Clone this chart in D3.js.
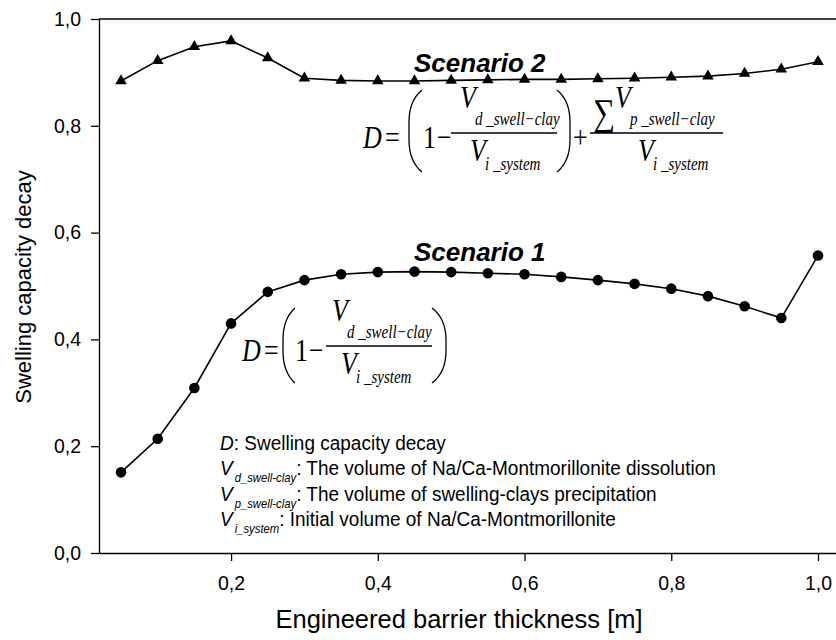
<!DOCTYPE html>
<html>
<head>
<meta charset="utf-8">
<script src="https://cdn.jsdelivr.net/npm/d3@7"></script>
<style>
  html, body { margin: 0; padding: 0; background: #fff; }
  svg { display: block; }
</style>
</head>
<body>
<svg id="chart" width="836" height="640"></svg>
<script>
// Barrier thickness (m) at which the swelling capacity decay was evaluated
const thickness = [0.05, 0.10, 0.15, 0.20, 0.25, 0.30, 0.35, 0.40, 0.45, 0.50,
                   0.55, 0.60, 0.65, 0.70, 0.75, 0.80, 0.85, 0.90, 0.95, 1.00];

// Scenario 1: dissolution only
const scenario1 = [0.151, 0.214, 0.309, 0.430, 0.489, 0.511, 0.522, 0.526, 0.527, 0.526,
                   0.524, 0.522, 0.517, 0.511, 0.504, 0.495, 0.481, 0.462, 0.440, 0.557];

// Scenario 2: dissolution plus precipitation of swelling clays
const scenario2 = [0.884, 0.922, 0.948, 0.959, 0.927, 0.889, 0.885, 0.884, 0.884, 0.885,
                   0.886, 0.887, 0.887, 0.888, 0.889, 0.891, 0.893, 0.898, 0.906, 0.920];

const xTicks = [0.2, 0.4, 0.6, 0.8, 1.0];
const xTickLabels = ["0,2", "0,4", "0,6", "0,8", "1,0"];
const yTicks = [0.0, 0.2, 0.4, 0.6, 0.8, 1.0];
const yTickLabels = ["0,0", "0,2", "0,4", "0,6", "0,8", "1,0"];

const xTitle = "Engineered barrier thickness [m]";
const yTitle = "Swelling capacity decay";
const seriesNames = ["Scenario 1", "Scenario 2"];

const svg = d3.select("#chart");
const SANS = "'Liberation Sans', Arial, sans-serif";
const SERIF = "'Liberation Serif', 'Times New Roman', serif";

const x = d3.scaleLinear().domain([0.02, 1.03]).range([99, 840]);
const y = d3.scaleLinear().domain([0, 1]).range([553, 19]);

// generic text helper with optional vertical stretch
function label(parent, o) {
  const g = parent.append("g")
    .attr("transform", `translate(${o.x},${o.y})` + (o.rot ? ` rotate(${o.rot})` : "") + ` scale(1,${o.sy || 1})`);
  const t = g.append("text")
    .attr("x", 0).attr("y", 0)
    .attr("font-family", o.family || SANS)
    .attr("font-size", o.size)
    .attr("font-style", o.style || "normal")
    .attr("font-weight", o.weight || "normal")
    .attr("text-anchor", o.anchor || "start")
    .attr("fill", "#000")
    .text(o.text);
  return t;
}

// ---- axes ----
const fmtX = d => xTickLabels[xTicks.indexOf(d)];
const fmtY = d => yTickLabels[yTicks.indexOf(d)];

const xAxis = svg.append("g")
  .attr("transform", `translate(0,${y(0)})`)
  .call(d3.axisBottom(x).tickValues(xTicks).tickFormat(fmtX).tickSize(8).tickSizeOuter(0).tickPadding(15));
const yAxis = svg.append("g")
  .attr("transform", `translate(${x(0.02)},0)`)
  .call(d3.axisLeft(y).tickValues(yTicks).tickFormat(fmtY).tickSize(8).tickSizeOuter(0).tickPadding(10));

[xAxis, yAxis].forEach(a => {
  a.select(".domain").attr("stroke", "#000").attr("stroke-width", 1.3);
  a.selectAll(".tick line").attr("stroke", "#000").attr("stroke-width", 1.3);
  a.selectAll(".tick text").attr("font-family", SANS).attr("font-size", 19.5).attr("fill", "#000");
});

// top frame line
svg.append("line")
  .attr("x1", x(0.02)).attr("x2", x(1.03))
  .attr("y1", y(1)).attr("y2", y(1))
  .attr("stroke", "#000").attr("stroke-width", 1.3);

// axis titles
label(svg, { x: 459, y: 628, text: xTitle, size: 25.5, anchor: "middle" });
label(svg, { x: 31, y: 287, text: yTitle, size: 22, anchor: "middle", rot: -90 });

// ---- series ----
const line = d3.line().x((d, i) => x(thickness[i])).y(d => y(d));

svg.append("path").datum(scenario1)
  .attr("d", line).attr("fill", "none").attr("stroke", "#000").attr("stroke-width", 1.6);
svg.append("path").datum(scenario2)
  .attr("d", line).attr("fill", "none").attr("stroke", "#000").attr("stroke-width", 1.6);

svg.append("g").selectAll("circle").data(scenario1).join("circle")
  .attr("cx", (d, i) => x(thickness[i])).attr("cy", d => y(d))
  .attr("r", 5.3).attr("fill", "#000");

const tri = d3.symbol().type(d3.symbolTriangle).size(58);
svg.append("g").selectAll("path").data(scenario2).join("path")
  .attr("transform", (d, i) => `translate(${x(thickness[i])},${y(d)})`)
  .attr("d", tri).attr("fill", "#000");

// scenario labels
label(svg, { x: 414, y: 261, text: seriesNames[0], size: 26, style: "italic", weight: "bold" });
label(svg, { x: 414, y: 72, text: seriesNames[1], size: 26, style: "italic", weight: "bold" });

// ---- formulas ----
const FS = 26, SUB = 15, SY = 1.22;

function paren(g, x0, x1, top, bot, left) {
  const a = left ? x0 : x1, b = left ? x1 : x0;   // a = vertical stem, b = hook ends
  const p = d3.path();
  p.moveTo(b, top);
  p.bezierCurveTo(a + (b - a) * 0.25, top + 8, a, top + 20, a, top + 32);
  p.lineTo(a, bot - 32);
  p.bezierCurveTo(a, bot - 20, a + (b - a) * 0.25, bot - 8, b, bot);
  g.append("path").attr("d", p.toString()).attr("fill", "none")
    .attr("stroke", "#000").attr("stroke-width", 1.3);
}

function frac(g, ax, sub, x0, x1, vN, vD) {
  g.append("line").attr("x1", x0).attr("x2", x1).attr("y1", ax).attr("y2", ax)
    .attr("stroke", "#000").attr("stroke-width", 1.3);
  label(g, { x: vN, y: ax - 25, text: "V", size: FS, family: SERIF, style: "italic", sy: SY });
  label(g, { x: vN + 15, y: ax - 8, text: sub, size: SUB, family: SERIF, style: "italic", sy: SY });
  label(g, { x: vD, y: ax + 28, text: "V", size: FS, family: SERIF, style: "italic", sy: SY });
  label(g, { x: vD + 15, y: ax + 37, text: "i _system", size: SUB, family: SERIF, style: "italic", sy: SY });
}

function formula(L, ax, top, bot, withSum) {
  const g = svg.append("g");
  label(g, { x: L.D, y: ax + 15, text: "D", size: FS, family: SERIF, style: "italic", sy: SY });
  label(g, { x: L.eq, y: ax + 15, text: "=", size: FS, family: SERIF, sy: SY });
  paren(g, L.lp[0], L.lp[1], top, bot, true);
  label(g, { x: L.one, y: ax + 15, text: "1", size: FS, family: SERIF, sy: SY });
  label(g, { x: L.minus, y: ax + 15, text: "\u2212", size: FS, family: SERIF, sy: SY });
  frac(g, ax, "d _swell\u2212clay", L.bar[0], L.bar[1], L.nV, L.dV);
  paren(g, L.rp[0], L.rp[1], top, bot, false);
  if (withSum) {
    label(g, { x: L.plus, y: ax + 15, text: "+", size: FS, family: SERIF, sy: SY });
    label(g, { x: L.sig, y: ax - 8, text: "\u2211", size: 31, family: SERIF, sy: SY });
    frac(g, ax, "p _swell\u2212clay", L.bar2[0], L.bar2[1], L.nV2, L.dV2);
  }
}

formula({ D: 363, eq: 385, lp: [409, 422], one: 423, minus: 437, bar: [451, 557],
          nV: 460, dV: 470, rp: [557, 570], plus: 573, bar2: [590, 723], sig: 593,
          nV2: 615, dV2: 638 }, 133, 90, 172, true);

formula({ D: 242, eq: 264, lp: [283, 295], one: 295, minus: 309, bar: [326, 432],
          nV: 332, dV: 341, rp: [432, 446] }, 346, 308, 383, false);

// ---- definitions block ----
const defs = svg.append("g");
const LX = 220, LS = 19, LSUB = 11.3, LSY = 1.06;
const rows = [
  { base: 450, v: "D", sub: null, rest: ": Swelling capacity decay" },
  { base: 475, v: "V", sub: "d_swell-clay", rest: ": The volume of Na/Ca-Montmorillonite dissolution" },
  { base: 501, v: "V", sub: "p_swell-clay", rest: ": The volume of swelling-clays precipitation" },
  { base: 526, v: "V", sub: "i_system", rest: ": Initial volume of Na/Ca-Montmorillonite" }
];
rows.forEach(r => {
  const vt = label(defs, { x: LX, y: r.base, text: r.v, size: LS, style: "italic", sy: LSY });
  let cx = LX + vt.node().getComputedTextLength();
  if (r.sub) {
    cx += 2;
    const st = label(defs, { x: cx, y: r.base + 7, text: r.sub, size: LSUB, style: "italic", sy: LSY });
    cx += st.node().getComputedTextLength();
  }
  label(defs, { x: cx, y: r.base, text: r.rest, size: LS, sy: LSY });
});
</script>
</body>
</html>
